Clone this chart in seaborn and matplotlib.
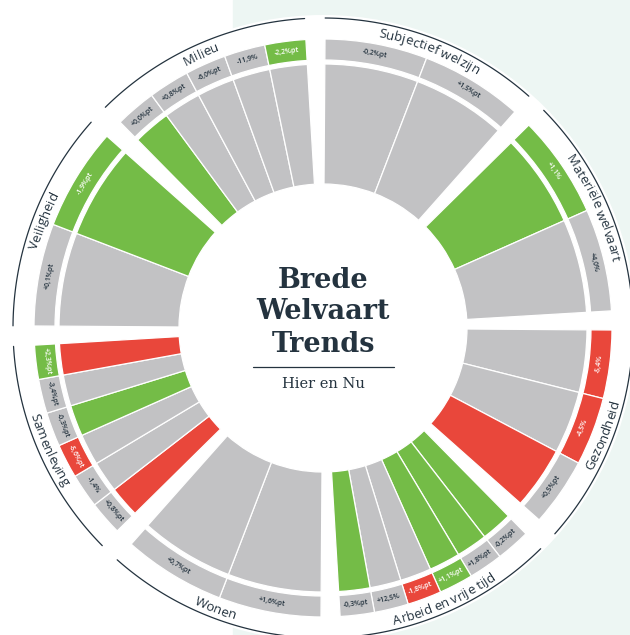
import numpy as np
import pandas as pd
import matplotlib.pyplot as plt
import seaborn as sns
from matplotlib.patches import Rectangle
from matplotlib.lines import Line2D
from matplotlib.font_manager import FontProperties, findfont
from matplotlib import ft2font

# 1. Data (clockwise from the top)
groups = ["Subjectief welzijn", "Materiële welvaart", "Gezondheid",
          "Arbeid en vrije tijd", "Wonen", "Samenleving", "Veiligheid", "Milieu"]
group_sizes = [2, 2, 3, 6, 2, 6, 2, 5]

value_labels = [
    "-0,2%pt", "+1,5%pt",
    "+1,1%", "+4,0%",
    "-5,4%", "-4,5%", "+0,5%pt",
    "-0,2%pt", "+1,8%pt", "+1,1%pt", "-1,8%pt", "+12,5%", "-0,3%pt",
    "+1,6%pt", "+0,7%pt",
    "+0,8%pt", "-1,4%", "-5,6%pt", "-0,3%pt", "-3,4%pt", "+2,3%pt",
    "+0,1%pt", "-1,9%pt",
    "+0,0%pt", "+0,8%pt", "-6,0%pt", "-11,9%", "-2,2%pt",
]
# trend in the inner wedges
long_trend = [
    "flat", "flat",
    "up", "flat",
    "flat", "flat", "down",
    "up", "up", "up", "flat", "flat", "up",
    "flat", "flat",
    "down", "flat", "flat", "up", "flat", "down",
    "flat", "up",
    "up", "flat", "flat", "flat", "flat",
]
# trend in the outer label ring
short_trend = [
    "flat", "flat",
    "up", "flat",
    "down", "down", "flat",
    "flat", "flat", "up", "down", "flat", "flat",
    "flat", "flat",
    "flat", "flat", "down", "flat", "flat", "up",
    "flat", "up",
    "flat", "flat", "flat", "flat", "up",
]

palette = {"up": "#74bc47", "down": "#e9473b", "flat": "#c2c2c4"}
dark = "#24333f"
mint = "#edf6f3"

# 2. Layout of the sectors
df = pd.DataFrame({
    "group": np.repeat(np.arange(len(groups)), group_sizes),
    "label": value_labels,
    "long": long_trend,
    "short": short_trend,
})
df["pos"] = df.groupby("group").cumcount()
df["n"] = df["group"].map(dict(enumerate(group_sizes)))

sector, gap, offset = 45.0, 3.8, -1.5
df["start"] = offset + sector * df["group"] + gap / 2
df["width"] = (sector - gap) / df["n"]
df["theta"] = df["start"] + df["width"] * (df["pos"] + 0.5)

R0, R1, R2, R3 = 144, 264, 268, 289
R_ARC, R_LIM = 310, 313
W_PX, H_PX = 630, 635
CX, CY = 323, 328

# 3. Figure
sns.set_theme(style="white")
plt.rcParams["font.family"] = ["Open Sans", "DejaVu Sans"]

fig = plt.figure(figsize=(W_PX / 100, H_PX / 100), dpi=100, facecolor="white")
fig.add_artist(Rectangle((233 / W_PX, 0), 1, 1, transform=fig.transFigure,
                         color=mint, zorder=-5))

ax = fig.add_axes([(CX - R_LIM) / W_PX, (H_PX - CY - R_LIM) / H_PX,
                   2 * R_LIM / W_PX, 2 * R_LIM / H_PX], projection="polar")
ax.set_theta_zero_location("N")
ax.set_theta_direction(-1)
ax.set_ylim(0, R_LIM)
ax.set_facecolor("white")
ax.grid(False)
ax.set_xticks([])
ax.set_yticks([])
ax.spines["polar"].set_visible(False)

th = np.deg2rad(df["theta"])
wd = np.deg2rad(df["width"])
ax.bar(th, R1 - R0, width=wd, bottom=R0, color=df["long"].map(palette),
       edgecolor="white", linewidth=0.9)
ax.bar(th, R3 - R2, width=wd, bottom=R2, color=df["short"].map(palette),
       edgecolor="white", linewidth=0.9)

# value labels in the outer ring
for _, row in df.iterrows():
    a = row["theta"] % 360
    rot = 180 - a if 90 < a < 270 else -a
    txt_color = dark if row["short"] == "flat" else "white"
    ax.text(np.deg2rad(a), (R2 + R3) / 2, row["label"], rotation=rot,
            rotation_mode="anchor", ha="center", va="center", fontsize=5.0,
            fontweight="semibold", color=txt_color)

# group arcs
for g in range(len(groups)):
    a0 = offset + sector * g + gap / 2
    arc = np.deg2rad(np.linspace(a0, a0 + sector - gap, 80))
    ax.plot(arc, np.full_like(arc, R_ARC), color=dark, lw=0.9, clip_on=False)

# curved group names, placed char by char from the glyph metrics
fp = FontProperties(family=["Open Sans", "DejaVu Sans"], size=9.5)
ft = ft2font.FT2Font(findfont(fp))
ft.set_size(9.5, 100)
try:
    no_hint = ft2font.LoadFlags.NO_HINTING
except AttributeError:
    no_hint = ft2font.LOAD_NO_HINTING


def glyph_metrics(ch):
    gl = ft.load_char(ord(ch), flags=no_hint)
    adv = gl.linearHoriAdvance / 65536
    ink_mid = (gl.horiBearingX + gl.width / 2) / 64
    return adv, ink_mid


for g, name in enumerate(groups):
    a = (offset + sector * (g + 0.5)) % 360
    top = not (90 < a < 270)
    rb = 296 if top else 305
    metrics = [glyph_metrics(ch) for ch in name]
    total = sum(m[0] for m in metrics)
    left = 0.0
    for ch, (adv, mid) in zip(name, metrics):
        c = left + mid - total / 2
        left += adv
        if ch == " ":
            continue
        if top:
            ang = a + np.rad2deg(c / rb)
            rot = -ang
        else:
            ang = a - np.rad2deg(c / rb)
            rot = 180 - ang
        ax.text(np.deg2rad(ang), rb, ch, rotation=rot, rotation_mode="anchor",
                ha="center", va="baseline", fontproperties=fp, color=dark)

# 4. Title in the middle
title_font = dict(family="DejaVu Serif", fontweight="bold", fontsize=19.5,
                  color=dark, ha="center", va="baseline")
for word, base in [("Brede", 288), ("Welvaart", 319), ("Trends", 352)]:
    fig.text(CX / W_PX, 1 - base / H_PX, word, **title_font)
fig.add_artist(Line2D([253 / W_PX, 394 / W_PX], [1 - 367 / H_PX] * 2,
                      transform=fig.transFigure, color=dark, lw=0.9))
fig.text(CX / W_PX, 1 - 387.5 / H_PX, "Hier en Nu", family="DejaVu Serif",
         fontsize=10.5, color=dark, ha="center", va="baseline")

fig.savefig("out.png", dpi=100)
